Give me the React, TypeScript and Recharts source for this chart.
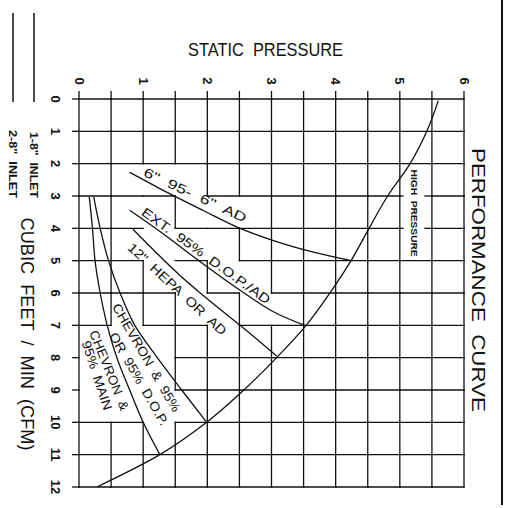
import { LineChart, Line, XAxis, YAxis, ReferenceDot, ReferenceLine } from 'recharts';

// static pressure axis (grid every 0.5, label every 1)
const pressureTicks = [0, 0.5, 1, 1.5, 2, 2.5, 3, 3.5, 4, 4.5, 5, 5.5, 6];
// cubic feet / min axis
const cfmTicks = [0, 1, 2, 3, 4, 5, 6, 7, 8, 9, 10, 11, 12];

// fan curve
const fanCurve = [
  { p: 5.6, c: 0.05 }, { p: 5.42, c: 1 }, { p: 5.16, c: 2 }, { p: 4.81, c: 3 },
  { p: 4.52, c: 4 }, { p: 4.24, c: 5 }, { p: 3.91, c: 6 }, { p: 3.54, c: 7 },
  { p: 3.08, c: 8 }, { p: 2.57, c: 9 }, { p: 1.99, c: 10 }, { p: 1.26, c: 11 },
  { p: 0.28, c: 12 },
];

// filter resistance curves
const sixInch = [
  { p: 0.79, c: 2.27 }, { p: 1.26, c: 2.77 }, { p: 1.93, c: 3.44 }, { p: 2.51, c: 4.0 },
  { p: 3.02, c: 4.37 }, { p: 3.64, c: 4.73 }, { p: 4.24, c: 5.0 },
];
const extDop = [
  { p: 0.79, c: 3.44 }, { p: 1.3, c: 4.15 }, { p: 1.8, c: 4.9 }, { p: 2.5, c: 5.9 },
  { p: 3.0, c: 6.55 }, { p: 3.54, c: 7.02 },
];
const hepa = [
  { p: 0.84, c: 4.03 }, { p: 1.57, c: 5.45 }, { p: 2.04, c: 6.25 }, { p: 2.51, c: 7.0 },
  { p: 3.08, c: 7.95 },
];
const chevronDop = [
  { p: 0.23, c: 3.03 }, { p: 0.33, c: 4 }, { p: 0.46, c: 5 }, { p: 0.64, c: 6 },
  { p: 0.87, c: 7 }, { p: 1.22, c: 8 }, { p: 1.6, c: 9 }, { p: 1.99, c: 10 },
];
const chevronMain = [
  { p: 0.16, c: 3.03 }, { p: 0.21, c: 4 }, { p: 0.25, c: 5 }, { p: 0.33, c: 6 },
  { p: 0.44, c: 7 }, { p: 0.59, c: 8 }, { p: 0.79, c: 9 }, { p: 1.0, c: 10 },
  { p: 1.26, c: 11 },
];

const curveNames = ['6"  95-  6"  AD', 'EXT.  95%  D.O.P./AD', '12"  HEPA  OR  AD',
  'CHEVRON  &  95%', 'OR  95%  D.O.P.', 'CHEVRON  &', '95%  MAIN', 'HIGH  PRESSURE'];

const FONT = '"Liberation Sans", Arial, sans-serif';
const INK = '#111';
const SX = 385 / 6;   // px per unit of pressure
const SY = 388 / 12;  // px per unit of cfm

type Lab = { text: string; p: number; c: number; angle: number; len: number; size?: number; bold?: boolean; hh: number; clip?: boolean };

// where labels sit on the drawing, and how much grid they blank out
const labels: Lab[] = [
  { text: curveNames[0], p: 1.81, c: 2.97, angle: 25, len: 112, hh: 4.5 },
  { text: curveNames[1], p: 1.98, c: 4.85, angle: 35.7, len: 155, hh: 4.5 },
  { text: curveNames[2], p: 1.53, c: 5.88, angle: 42.7, len: 129, hh: 4 },
  { text: curveNames[3], p: 1.05, c: 8.0, angle: 60, len: 123, hh: 4.5 },
  { text: curveNames[4], p: 0.935, c: 8.66, angle: 60, len: 105, hh: 4.5 },
  { text: curveNames[5], p: 0.47, c: 8.39, angle: 68, len: 85, hh: 4.5 },
  { text: curveNames[6], p: 0.28, c: 8.55, angle: 72, len: 72, hh: 4.5 },
  { text: curveNames[7], p: 5.22, c: 3.53, angle: 90, len: 87, size: 9, bold: true, hh: 11, clip: true },
];

// parametric overlap of a grid segment with a rotated label box
function overlap(ax: number, ay: number, bx: number, by: number, lab: Lab): [number, number] | null {
  const cx = lab.p * SX, cy = lab.c * SY;
  const a = (lab.angle * Math.PI) / 180, cs = Math.cos(a), sn = Math.sin(a);
  const loc = (x: number, y: number) => {
    const dx = x - cx, dy = y - cy;
    return [dx * cs + dy * sn, -dx * sn + dy * cs];
  };
  const [u0, v0] = loc(ax * SX, ay * SY);
  const [u1, v1] = loc(bx * SX, by * SY);
  const du = u1 - u0, dv = v1 - v0, U = lab.len / 2 + 1, V = lab.hh;
  let t0 = 0, t1 = 1;
  const pq = [[-du, u0 + U], [du, U - u0], [-dv, v0 + V], [dv, V - v0]];
  for (const [pp, q] of pq) {
    if (pp === 0) { if (q < 0) return null; continue; }
    const r = q / pp;
    if (pp < 0) { if (r > t1) return null; if (r > t0) t0 = r; }
    else { if (r < t0) return null; if (r < t1) t1 = r; }
  }
  return [t0, t1];
}

function gridPieces(ax: number, ay: number, bx: number, by: number, edge: boolean) {
  let pieces: [number, number][] = [[0, 1]];
  if (!edge) {
    for (const lab of labels) {
      const o = overlap(ax, ay, bx, by, lab);
      if (!o) continue;
      if (!lab.clip) {
        if (o[1] > 0.09 && o[0] < 0.91) pieces = [];
      } else {
        const next: [number, number][] = [];
        for (const [s, e] of pieces) {
          if (o[1] <= s || o[0] >= e) { next.push([s, e]); continue; }
          if (o[0] > s) next.push([s, o[0]]);
          if (o[1] < e) next.push([o[1], e]);
        }
        pieces = next;
      }
    }
  }
  return pieces.map(([s, e]) => [
    { x: ax + (bx - ax) * s, y: ay + (by - ay) * s },
    { x: ax + (bx - ax) * e, y: ay + (by - ay) * e },
  ]);
}

const gridSegments: any[] = [];
pressureTicks.forEach((p, i) => {
  for (let j = 0; j < cfmTicks.length - 1; j++) {
    const edge = i === 0 || i === pressureTicks.length - 1;
    gridSegments.push(...gridPieces(p, cfmTicks[j], p, cfmTicks[j + 1], edge));
  }
});
cfmTicks.forEach((c, j) => {
  for (let i = 0; i < pressureTicks.length - 1; i++) {
    const edge = j === 0 || j === cfmTicks.length - 1;
    gridSegments.push(...gridPieces(pressureTicks[i], c, pressureTicks[i + 1], c, edge));
  }
});

const XTick = ({ x, y, payload }: any) => {
  if (!Number.isInteger(payload.value)) return <g />;
  const cy = y - 8;
  return (
    <text x={x} y={cy} transform={`rotate(90 ${x} ${cy})`} textAnchor="middle" dominantBaseline="central"
      fontSize={13} fontWeight="bold" fontFamily={FONT} fill={INK}>{payload.value}</text>
  );
};

const YTick = ({ x, y, payload }: any) => {
  const cx = x - 14.5;
  return (
    <text x={cx} y={y} transform={`rotate(90 ${cx} ${y})`} textAnchor="middle" dominantBaseline="central"
      fontSize={13} fontWeight="bold" fontFamily={FONT} fill={INK}>{payload.value}</text>
  );
};

const rotLabel = (lab: Lab) => (props: any) => {
  const { x, y } = props.viewBox;
  return (
    <text x={x} y={y} transform={`rotate(${lab.angle} ${x} ${y})`} textAnchor="middle" dominantBaseline="central"
      fontSize={lab.size ?? 13} fontWeight={lab.bold ? 'bold' : 'normal'} fontFamily={FONT} fill={INK}
      textLength={lab.len} lengthAdjust="spacingAndGlyphs" style={{ whiteSpace: 'pre' }}>{lab.text}</text>
  );
};

const curves = [fanCurve, sixInch, extDop, hepa, chevronDop, chevronMain];
const curveTypes: any[] = ['monotoneY', 'monotone', 'monotone', 'monotone', 'monotoneY', 'monotoneY'];

const outer = { fontFamily: FONT, fill: INK, textAnchor: 'middle' as const, dominantBaseline: 'central' as const, style: { whiteSpace: 'pre' as const }, lengthAdjust: 'spacingAndGlyphs' };

export default function App() {
  return (
    <div style={{ position: 'absolute', left: 0, top: 0, width: 506, height: 508, background: '#fff' }}>
      <LineChart width={506} height={508} margin={{ top: 69, right: 42, bottom: 21, left: 49 }}>
        <XAxis type="number" dataKey="p" orientation="top" domain={[0, 6]} ticks={pressureTicks} interval={0}
          height={30} tickSize={8} tickMargin={2} axisLine={false} tickLine={{ stroke: INK, strokeWidth: 1.3 }}
          tick={XTick} allowDataOverflow />
        <YAxis type="number" domain={[0, 12]} reversed ticks={cfmTicks} interval={0} width={30}
          tickSize={7} tickMargin={2} axisLine={false} tickLine={{ stroke: INK, strokeWidth: 1.3 }}
          tick={YTick} allowDataOverflow />
        {gridSegments.map((seg, i) => (
          <ReferenceLine key={'g' + i} segment={seg} stroke={INK} strokeWidth={1.3} strokeLinecap="square" ifOverflow="visible" />
        ))}
        {curves.map((d, i) => (
          <Line key={i} data={d} dataKey="c" type={curveTypes[i]} stroke={INK} strokeWidth={1.3}
            dot={false} activeDot={false} isAnimationActive={false} />
        ))}
        {labels.map((lab, i) => (
          <ReferenceDot key={'l' + i} x={lab.p} y={lab.c} r={0} stroke="none" fill="none" label={rotLabel(lab)} />
        ))}
      </LineChart>
      <svg width={506} height={508} style={{ position: 'absolute', left: 0, top: 0, pointerEvents: 'none' }}>
        <text {...outer} x={265.5} y={50} fontSize={18} textLength={155}>STATIC  PRESSURE</text>
        <text {...outer} x={478} y={280} transform="rotate(90 478 280)" fontSize={19} textLength={264}>PERFORMANCE  CURVE</text>
        <text {...outer} x={27} y={334} transform="rotate(90 27 334)" fontSize={18} textLength={233}>CUBIC  FEET  /  MIN  (CFM)</text>
        <text {...outer} x={33.5} y={165} transform="rotate(90 33.5 165)" fontSize={11} fontWeight="bold" textLength={66}>1-8"  INLET</text>
        <text {...outer} x={13} y={164} transform="rotate(90 13 164)" fontSize={11} fontWeight="bold" textLength={68}>2-8"  INLET</text>
        <line x1={13} y1={13} x2={13} y2={102} stroke={INK} strokeWidth={1.5} />
        <line x1={34} y1={13} x2={34} y2={102} stroke={INK} strokeWidth={1.5} />
        <line x1={502} y1={0} x2={502} y2={505} stroke={INK} strokeWidth={2} />
      </svg>
    </div>
  );
}
